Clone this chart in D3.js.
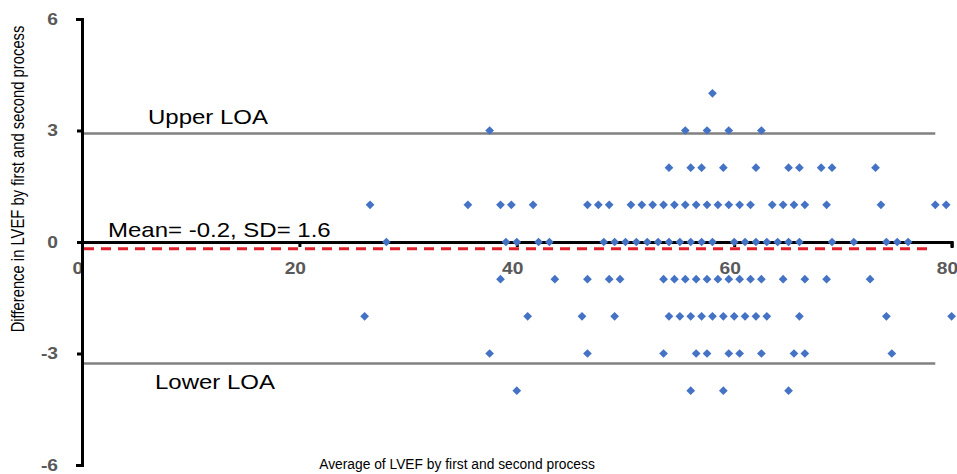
<!DOCTYPE html>
<html>
<head>
<meta charset="utf-8">
<script src="https://cdn.jsdelivr.net/npm/d3@7"></script>
<style>
  body { margin: 0; background: #fff; }
  text { font-family: "Liberation Sans", Arial, sans-serif; }
</style>
</head>
<body>
<script>
// differences (first - second) and the averages seen at each level
let diffLevels = [4, 3, 2, 1, 0, -1, -2, -3, -4];
let avgDiffPlus4 = [58];
let avgDiffPlus3 = [37.5, 55.5, 57.5, 59.5, 62.5];
let avgDiffPlus2 = [54, 56, 57, 59, 62, 65, 66, 68, 69, 73];
let avgDiffPlus1 = [26.5, 35.5, 38.5, 39.5, 41.5, 46.5, 47.5, 48.5, 50.5, 51.5, 52.5, 53.5, 54.5, 55.5,
  56.5, 57.5, 58.5, 59.5, 60.5, 61.5, 63.5, 64.5, 65.5, 66.5, 68.5, 73.5, 78.5, 79.5];
let avgDiffZero = [28, 39, 40, 42, 43, 48, 49, 50, 51, 52, 53, 54, 55, 56, 57, 58, 60, 61, 62, 63, 64,
  65, 66, 69, 71, 74, 75, 76];
let avgDiffMinus1 = [38.5, 43.5, 46.5, 48.5, 49.5, 53.5, 54.5, 55.5, 56.5, 57.5, 58.5, 59.5, 60.5, 61.5,
  62.5, 64.5, 66.5, 68.5, 72.5];
let avgDiffMinus2 = [26, 41, 46, 49, 54, 55, 56, 57, 58, 59, 60, 61, 62, 63, 66, 74, 80];
let avgDiffMinus3 = [37.5, 46.5, 53.5, 56.5, 57.5, 59.5, 60.5, 62.5, 65.5, 66.5, 74.5];
let avgDiffMinus4 = [40, 56, 59, 65];
let avgByLevel = [avgDiffPlus4, avgDiffPlus3, avgDiffPlus2, avgDiffPlus1, avgDiffZero,
  avgDiffMinus1, avgDiffMinus2, avgDiffMinus3, avgDiffMinus4];

// agreement lines
let meanDiff = -0.18;
let upperLOA = 2.92;
let lowerLOA = -3.27;
let lineEnd = 78.5;

let xTicks = [0, 20, 40, 60, 80];
let yTicks = [-6, -3, 0, 3, 6];

let width = 957, height = 474;
let stretch = 1.2; // the picture is wider than it is tall

let svg = d3.select('body').append('svg').attr('width', width).attr('height', height);

let x = d3.scaleLinear().domain([0, 80]).range([82, 951.6]);
let y = d3.scaleLinear().domain([-6, 6]).range([465, 19]);

let plainNum = function(d) { return String(d); }; // hyphen minus, like the original

let points = [];
diffLevels.forEach(function(lvl, i) {
  avgByLevel[i].forEach(function(a) { points.push({avg: a, diff: lvl}); });
});

// limits of agreement
svg.selectAll('.loa').data([upperLOA, lowerLOA]).enter().append('line').attr('class', 'loa')
  .attr('x1', x(0)).attr('x2', x(lineEnd))
  .attr('y1', function(d) { return y(d); }).attr('y2', function(d) { return y(d); })
  .style('stroke', '#808080').style('stroke-width', 2.5);

// x axis through zero
let xAxis = svg.append('g').attr('transform', 'translate(0,' + y(0) + ')')
  .call(d3.axisBottom(x).tickValues(xTicks).tickFormat(plainNum).tickSize(5).tickSizeOuter(6).tickPadding(0));
xAxis.select('.domain').style('stroke', '#000').style('stroke-width', 3);
xAxis.selectAll('.tick line').style('stroke', '#000').style('stroke-width', 3);
xAxis.selectAll('.tick text')
  .attr('y', 32).attr('dy', '0').attr('x', -3.8)
  .attr('transform', 'scale(' + stretch + ',1)')
  .style('font-size', '16px').style('font-weight', 'bold').style('fill', '#595959')
  .style('font-family', '"Liberation Sans", Arial, sans-serif');

// y axis
let yAxis = svg.append('g').attr('transform', 'translate(' + x(0) + ',0)')
  .call(d3.axisLeft(y).tickValues(yTicks).tickFormat(plainNum).tickSize(5).tickSizeOuter(6));
yAxis.select('.domain').style('stroke', '#000').style('stroke-width', 3);
yAxis.selectAll('.tick line').style('stroke', '#000').style('stroke-width', 3);
yAxis.selectAll('.tick text')
  .attr('x', -20).attr('dy', '0.33em')
  .attr('transform', 'scale(' + stretch + ',1)')
  .style('font-size', '16px').style('font-weight', 'bold').style('fill', '#595959')
  .style('font-family', '"Liberation Sans", Arial, sans-serif');

// mean difference
svg.append('line')
  .attr('x1', x(0) + 2).attr('x2', x(78))
  .attr('y1', y(meanDiff)).attr('y2', y(meanDiff))
  .style('stroke', '#e0202a').style('stroke-width', 3).style('stroke-dasharray', '10,7');

// points
let diamond = d3.symbol().type(d3.symbolSquare).size(38);
svg.selectAll('.pt').data(points).enter().append('path').attr('class', 'pt')
  .attr('d', diamond)
  .attr('transform', function(d) { return 'translate(' + x(d.avg) + ',' + y(d.diff) + ') rotate(45)'; })
  .style('fill', '#4472C4');

// labels
function label(txt, px, py, size) {
  svg.append('text')
    .attr('transform', 'translate(' + px + ',' + py + ') scale(' + stretch + ',1)')
    .style('font-size', size + 'px').style('fill', '#000')
    .text(txt);
}
label('Upper LOA', 148, 124, 20);
label('Lower LOA', 155, 389, 20);
label('Mean= -0.2, SD= 1.6', 108, 237, 20);

svg.append('text')
  .attr('transform', 'translate(24,179) rotate(-90) scale(1,' + stretch + ')')
  .attr('text-anchor', 'middle')
  .style('font-size', '14.8px')
  .text('Difference in LVEF by first and second process');

svg.append('text')
  .attr('x', 457).attr('y', 469)
  .attr('text-anchor', 'middle')
  .style('font-size', '13.8px')
  .text('Average of LVEF by first and second process');
</script>
</body>
</html>
